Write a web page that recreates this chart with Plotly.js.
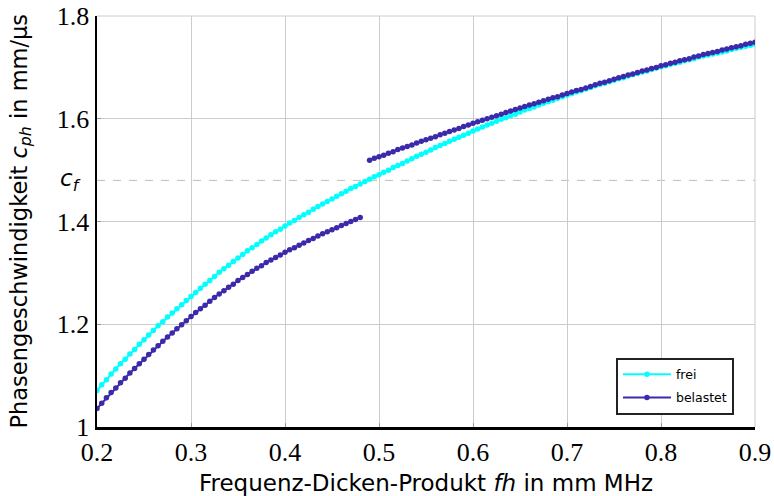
<!DOCTYPE html>
<html>
<head>
<meta charset="utf-8">
<script src="https://cdn.plot.ly/plotly-3.0.1.min.js"></script>
<style>html,body{margin:0;padding:0;background:#fff;}#chart{width:774px;height:496px;}</style>
</head>
<body>
<div id="chart"></div>
<script>
const fh = [0.200,0.205,0.210,0.215,0.220,0.225,0.230,0.235,0.240,0.245,
0.250,0.255,0.260,0.265,0.270,0.275,0.280,0.285,0.290,0.295,
0.300,0.305,0.310,0.315,0.320,0.325,0.330,0.335,0.340,0.345,
0.350,0.355,0.360,0.365,0.370,0.375,0.380,0.385,0.390,0.395,
0.400,0.405,0.410,0.415,0.420,0.425,0.430,0.435,0.440,0.445,
0.450,0.455,0.460,0.465,0.470,0.475,0.480,0.485,0.490,0.495,
0.500,0.505,0.510,0.515,0.520,0.525,0.530,0.535,0.540,0.545,
0.550,0.555,0.560,0.565,0.570,0.575,0.580,0.585,0.590,0.595,
0.600,0.605,0.610,0.615,0.620,0.625,0.630,0.635,0.640,0.645,
0.650,0.655,0.660,0.665,0.670,0.675,0.680,0.685,0.690,0.695,
0.700,0.705,0.710,0.715,0.720,0.725,0.730,0.735,0.740,0.745,
0.750,0.755,0.760,0.765,0.770,0.775,0.780,0.785,0.790,0.795,
0.800,0.805,0.810,0.815,0.820,0.825,0.830,0.835,0.840,0.845,
0.850,0.855,0.860,0.865,0.870,0.875,0.880,0.885,0.890,0.895,
0.900];

const frei = [1.071,1.082,1.092,1.103,1.113,1.123,1.132,1.142,1.151,1.161,
1.170,1.179,1.188,1.197,1.205,1.214,1.222,1.230,1.238,1.246,
1.254,1.262,1.270,1.278,1.285,1.293,1.301,1.308,1.315,1.322,
1.329,1.336,1.343,1.349,1.355,1.362,1.368,1.374,1.380,1.385,
1.391,1.397,1.402,1.408,1.413,1.418,1.424,1.429,1.434,1.439,
1.444,1.449,1.454,1.459,1.464,1.468,1.473,1.478,1.482,1.487,
1.491,1.496,1.500,1.505,1.509,1.513,1.518,1.522,1.527,1.531,
1.535,1.539,1.544,1.548,1.552,1.556,1.560,1.564,1.568,1.572,
1.576,1.580,1.584,1.588,1.591,1.595,1.599,1.602,1.606,1.609,
1.613,1.617,1.620,1.623,1.627,1.630,1.633,1.636,1.640,1.643,
1.646,1.649,1.652,1.655,1.658,1.661,1.664,1.667,1.669,1.672,
1.675,1.678,1.680,1.683,1.686,1.688,1.691,1.693,1.696,1.699,
1.701,1.703,1.706,1.708,1.710,1.713,1.715,1.717,1.720,1.722,
1.724,1.726,1.728,1.730,1.732,1.735,1.737,1.739,1.741,1.743,
1.745];

const belastet = [1.036,1.046,1.057,1.067,1.076,1.086,1.095,1.105,1.114,1.123,
1.132,1.141,1.150,1.158,1.167,1.175,1.183,1.191,1.199,1.207,
1.215,1.223,1.230,1.237,1.245,1.252,1.259,1.265,1.272,1.278,
1.285,1.291,1.297,1.303,1.309,1.314,1.320,1.325,1.330,1.335,
1.340,1.345,1.349,1.354,1.358,1.363,1.367,1.372,1.376,1.380,
1.384,1.388,1.392,1.396,1.400,1.404,1.408,null,1.519,1.523,
1.526,1.529,1.533,1.536,1.540,1.543,1.546,1.549,1.553,1.556,
1.559,1.562,1.565,1.569,1.572,1.575,1.578,1.581,1.585,1.588,
1.591,1.594,1.597,1.600,1.603,1.606,1.609,1.612,1.615,1.618,
1.621,1.624,1.627,1.629,1.632,1.635,1.638,1.641,1.643,1.646,
1.649,1.652,1.655,1.657,1.660,1.663,1.666,1.669,1.671,1.674,
1.677,1.680,1.682,1.685,1.687,1.690,1.693,1.695,1.698,1.700,
1.703,1.705,1.708,1.710,1.713,1.715,1.717,1.720,1.722,1.725,
1.727,1.729,1.731,1.734,1.736,1.738,1.740,1.742,1.745,1.747,
1.749];

const seriesNames = ['frei', 'belastet'];
const xTicks = [0.2,0.3,0.4,0.5,0.6,0.7,0.8,0.9];
const xTickText = ['0.2','0.3','0.4','0.5','0.6','0.7','0.8','0.9'];
const yTicks = [1,1.2,1.4,1.6,1.8];
const yTickText = ['1','1.2','1.4','1.6','1.8'];
const cf = 1.48;

const serif = 'Liberation Serif, serif';
const sans = 'DejaVu Sans, sans-serif';

const traces = [
  {x: fh, y: frei, name: seriesNames[0], legendgroup: 'g1', type: 'scatter', mode: 'lines+markers',
   line: {color: '#00ffff', width: 2}, marker: {color: '#00ffff', size: 5.5}},
  {x: fh, y: belastet, name: seriesNames[1], legendgroup: 'g2', type: 'scatter', mode: 'lines+markers',
   connectgaps: false,
   line: {color: '#3b2aaa', width: 2}, marker: {color: '#3b2aaa', size: 5.5}}
];

const layout = {
  width: 774, height: 496,
  margin: {l: 97, r: 19, t: 16, b: 69},
  paper_bgcolor: '#fff', plot_bgcolor: '#fff',
  showlegend: true,
  legend: {x: 0.968, xanchor: 'right', y: 0.03, yanchor: 'bottom',
    bgcolor: '#fff', bordercolor: '#222', borderwidth: 2,
    itemwidth: 48, traceorder: 'grouped', tracegroupgap: 4,
    font: {family: sans, size: 12.5, color: '#000'}},
  xaxis: {range: [0.2, 0.9], tickvals: xTicks, ticktext: xTickText,
    showgrid: true, gridcolor: '#cccccc', gridwidth: 1,
    showline: true, linecolor: '#000', linewidth: 2.5,
    ticks: 'inside', ticklen: 4, tickcolor: '#999',
    zeroline: false, mirror: false,
    tickfont: {family: serif, size: 26, color: '#000'},
    title: {text: 'Frequenz-Dicken-Produkt <i>fh</i> in mm MHz', standoff: 10,
      font: {family: sans, size: 23, color: '#000'}}},
  yaxis: {range: [1, 1.8], tickvals: yTicks, ticktext: yTickText,
    showgrid: true, gridcolor: '#cccccc', gridwidth: 1,
    showline: true, linecolor: '#000', linewidth: 2.5,
    ticks: 'inside', ticklen: 4, tickcolor: '#999',
    zeroline: false,
    tickfont: {family: serif, size: 26, color: '#000'}},
  shapes: [
    {type: 'line', xref: 'paper', x0: 0, x1: 1, yref: 'y', y0: cf, y1: cf,
     line: {color: '#bbbbbb', width: 1, dash: '8px,8px'}, layer: 'below'},
    {type: 'line', xref: 'paper', x0: 0, x1: 1, yref: 'paper', y0: 1, y1: 1,
     line: {color: '#cccccc', width: 1}, layer: 'below'},
    {type: 'line', xref: 'paper', x0: 1, x1: 1, yref: 'paper', y0: 0, y1: 1,
     line: {color: '#cccccc', width: 1}, layer: 'below'}
  ],
  annotations: [
    {xref: 'paper', x: 0, xanchor: 'right', xshift: -14, yref: 'y', y: cf, yanchor: 'middle',
     showarrow: false, text: '<i>c<sub>f</sub></i>',
     font: {family: sans, size: 23, color: '#000'}},
    {xref: 'paper', x: 0, xanchor: 'center', xshift: -77, yref: 'paper', y: 0.5, yanchor: 'middle',
     textangle: -90, showarrow: false,
     text: 'Phasengeschwindigkeit <i>c<sub>ph</sub></i> in mm/µs',
     font: {family: sans, size: 22.5, color: '#000'}}
  ]
};

Plotly.newPlot('chart', traces, layout, {displayModeBar: false, staticPlot: true});
</script>
</body>
</html>
